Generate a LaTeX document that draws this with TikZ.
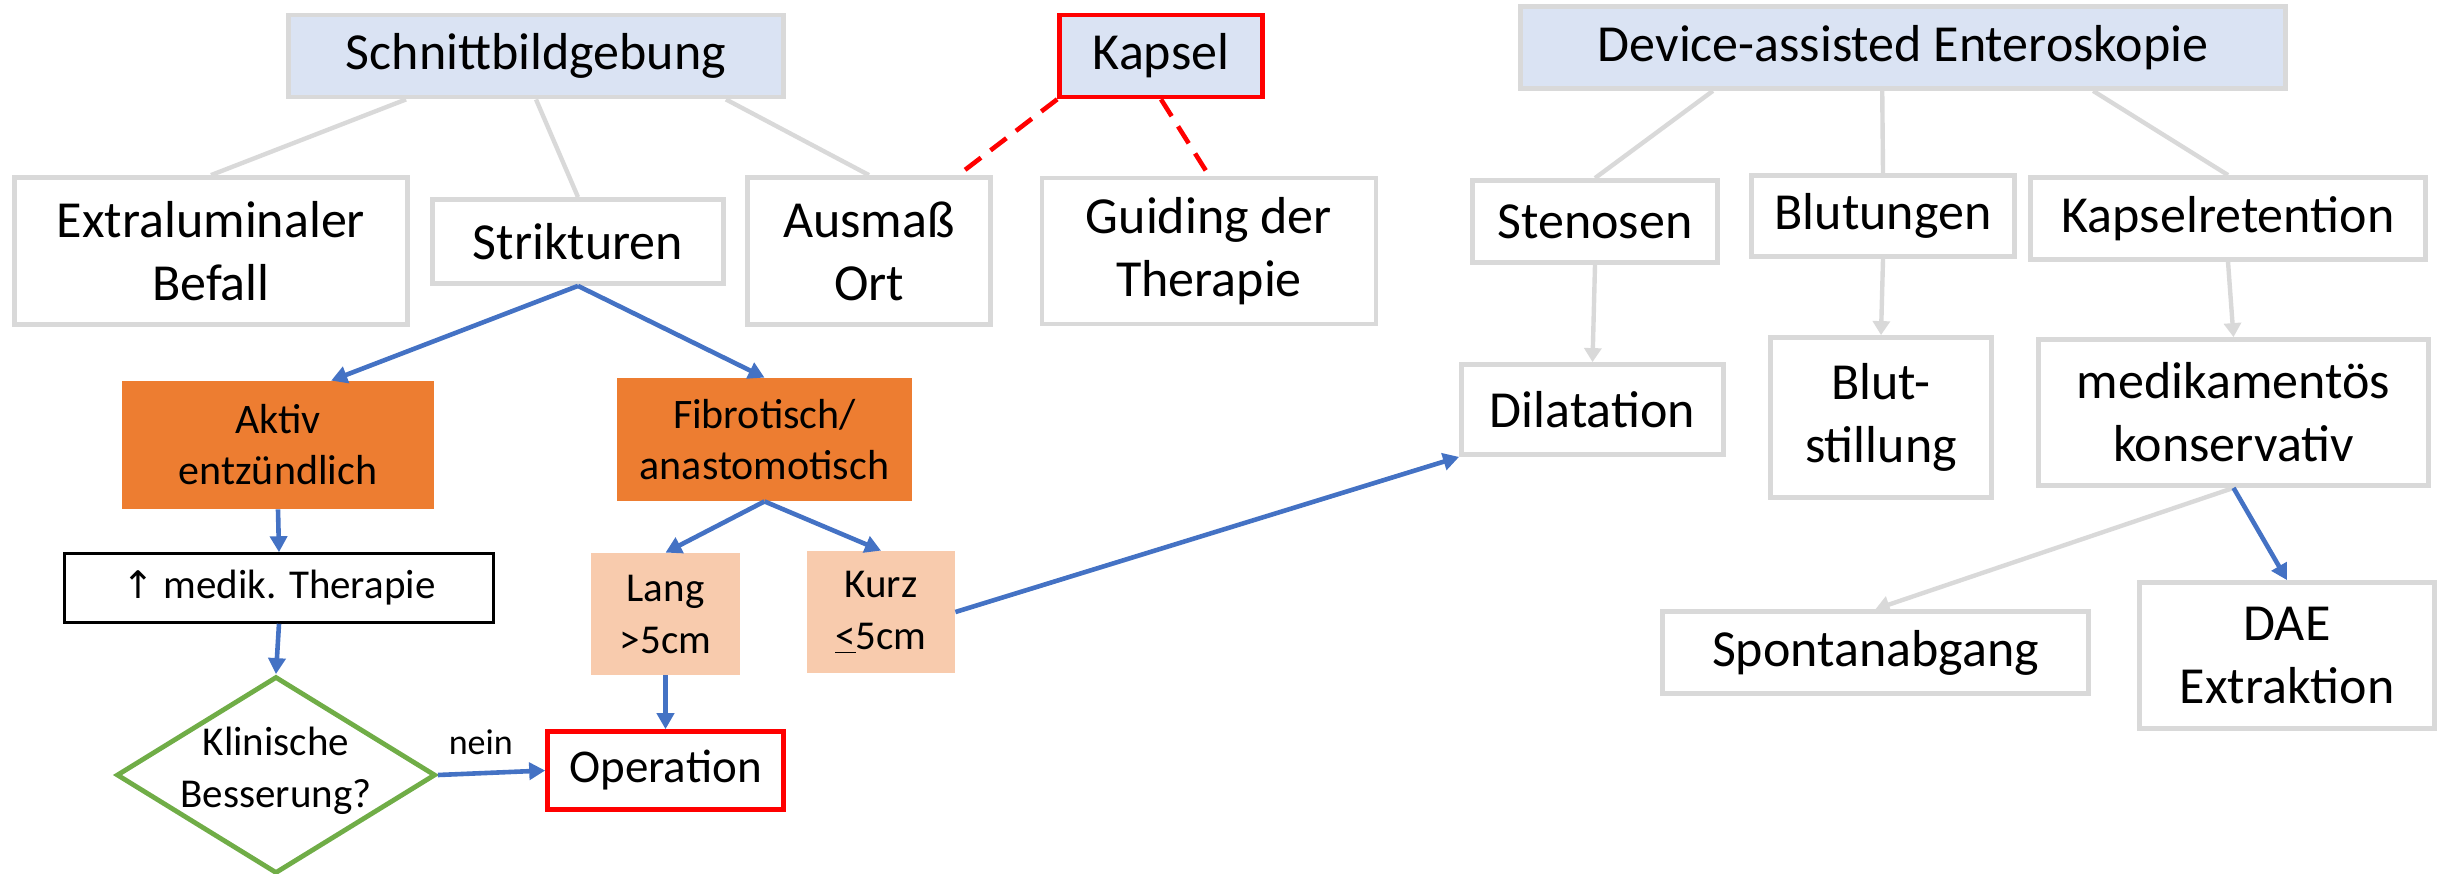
\documentclass[tikz,border=0pt]{standalone}
\usepackage{fontspec}
\setmainfont{Carlito}
\newfontfamily\arrowfont{DejaVu Sans}
\usetikzlibrary{arrows.meta,shapes.geometric,calc}

\definecolor{boxgray}{HTML}{D9D9D9}
\definecolor{headblue}{HTML}{DAE3F3}
\definecolor{arrowblue}{HTML}{4472C4}
\definecolor{aktivorange}{HTML}{ED7D31}
\definecolor{peach}{HTML}{F8CBAD}
\definecolor{decisiongreen}{HTML}{70AD47}

\tikzset{
  bigtext/.style={font=\fontsize{26}{31.5}\selectfont},
  midtext/.style={font=\fontsize{21}{25.5}\selectfont},
  smalltext/.style={font=\fontsize{20.5}{26}\selectfont},
  graybox/.style={draw=boxgray, line width=2.4pt, fill=white, align=center, inner sep=0pt, bigtext},
  headbox/.style={graybox, fill=headblue},
  redbox/.style={draw=red, line width=2.3pt, align=center, inner sep=0pt},
  orangebox/.style={fill=aktivorange, align=center, inner sep=0pt, midtext},
  peachbox/.style={fill=peach, align=center, inner sep=0pt, smalltext},
  grayline/.style={draw=boxgray, line width=2.2pt},
  grayarrow/.style={grayline, -{Triangle[length=7pt,width=8.5pt]}},
  bluearrow/.style={draw=arrowblue, line width=2.3pt, -{Triangle[length=8pt,width=8.5pt]}},
  kapsellink/.style={draw=red, line width=2.3pt, dash pattern=on 10pt off 6pt},
}

\begin{document}
\begin{tikzpicture}[x=0.5pt, y=-0.5pt]
  \useasboundingbox (0,0) rectangle (2451,873);

  \node[headbox, minimum width=247.5pt, minimum height=41pt] (schnitt) at (536,56) {Schnittbildgebung};
  \node[redbox, fill=headblue, bigtext, minimum width=101.5pt, minimum height=41pt] (kapsel) at (1161,56) {Kapsel};
  \node[headbox, minimum width=382.5pt, minimum height=41pt] (device) at (1903,47.5) {Device-assisted Enteroskopie};

  \node[graybox, minimum width=196.5pt, minimum height=73.5pt] (extra) at (211,251) {Extraluminaler\\Befall};
  \node[graybox, minimum width=145.5pt, minimum height=42pt] (strikt) at (578,241.5) {Strikturen};
  \node[graybox, minimum width=121.5pt, minimum height=73.5pt] (ausmass) at (869,251) {Ausmaß\\Ort};
  \node[graybox, minimum width=167pt, minimum height=73pt] (guiding) at (1209,251) {Guiding der\\Therapie};

  \node[graybox, minimum width=122.5pt, minimum height=41pt] (stenosen) at (1595,221.5) {Stenosen};
  \node[graybox, minimum width=131.5pt, minimum height=40.5pt] (blutungen) at (1883,216) {Blutungen};
  \node[graybox, minimum width=197.5pt, minimum height=41pt] (kapselret) at (2228,218.5) {Kapselretention};
  \node[graybox, minimum width=131pt, minimum height=45pt] (dilat) at (1592.5,409.5) {Dilatation};
  \node[graybox, minimum width=110.5pt, minimum height=80pt] (blutstill) at (1881,417.5) {Blut-\\stillung};
  \node[graybox, minimum width=195pt, minimum height=73pt] (medkons) at (2233.5,412.5) {medikamentös\\konservativ};
  \node[graybox, minimum width=213pt, minimum height=41pt] (spontan) at (1875.5,652.5) {Spontanabgang};
  \node[graybox, minimum width=147.5pt, minimum height=73pt] (dae) at (2287,655.5) {DAE\\Extraktion};

  \node[orangebox, minimum width=156pt, minimum height=64pt] (aktiv) at (278,445) {Aktiv\\entzündlich};
  \node[orangebox, minimum width=147.5pt, minimum height=61.5pt] (fibro) at (764.5,439.5) {Fibrotisch/\\anastomotisch};
  \node[draw=black, line width=1.3pt, inner sep=0pt, smalltext, minimum width=214.5pt, minimum height=34.5pt] (medik) at (279,588) {{\arrowfont\fontsize{19}{19}\selectfont ↑} medik. Therapie};
  \node[diamond, draw=decisiongreen, line width=2.4pt, inner sep=0pt, minimum width=159.5pt, minimum height=98.5pt,
        label={[align=center, smalltext, yshift=2pt]center:Klinische\\Besserung?}] (klin) at (276,775) {};
  \node[peachbox, minimum width=74.5pt, minimum height=61pt] (lang) at (665.5,614) {Lang\\>5cm};
  \node[peachbox, minimum width=74pt, minimum height=61pt] (kurz) at (881,612) {Kurz\\\underline{<}5cm};
  \node[redbox, fill=white, font=\fontsize{23.5}{28}\selectfont, minimum width=118pt, minimum height=39pt] (oper) at (665.5,770.5) {Operation};

  \draw[grayline] ($(schnitt.south west)!0.24!(schnitt.south east)$) -- (extra.north);
  \draw[grayline] (schnitt.south) -- (strikt.north);
  \draw[grayline] ($(schnitt.south west)!0.88!(schnitt.south east)$) -- (ausmass.north);
  \draw[kapsellink] (kapsel.south west) -- ($(ausmass.north west)!0.86!(ausmass.north east)$);
  \draw[kapsellink] (kapsel.south) -- (guiding.north);

  \draw[grayline] ($(device.south west)!0.253!(device.south east)$) -- (stenosen.north);
  \draw[grayline] ($(device.south west)!0.473!(device.south east)$) -- (blutungen.north);
  \draw[grayline] ($(device.south west)!0.747!(device.south east)$) -- (kapselret.north);
  \draw[grayarrow] (stenosen.south) -- (dilat.north);
  \draw[grayarrow] (blutungen.south) -- (blutstill.north);
  \draw[grayarrow] (kapselret.south) -- (medkons.north);
  \draw[grayarrow] (medkons.south) -- (spontan.north);

  \draw[bluearrow] (strikt.south) -- ($(aktiv.north west)!0.67!(aktiv.north east)$);
  \draw[bluearrow] (strikt.south) -- (fibro.north);
  \draw[bluearrow] (aktiv.south) -- (medik.north);
  \draw[bluearrow] (medik.south) -- (klin.north);
  \draw[bluearrow] (fibro.south) -- (lang.north);
  \draw[bluearrow] (fibro.south) -- (kurz.north);
  \draw[bluearrow] (lang.south) -- (oper.north);
  \draw[bluearrow] (klin.east) -- node[pos=0.4, above, inner sep=8pt, font=\fontsize{18}{18}\selectfont] {nein} (oper.west);
  \draw[bluearrow] (kurz.east) -- (dilat.south west);
  \draw[bluearrow] (medkons.south) -- (dae.north);
\end{tikzpicture}
\end{document}
